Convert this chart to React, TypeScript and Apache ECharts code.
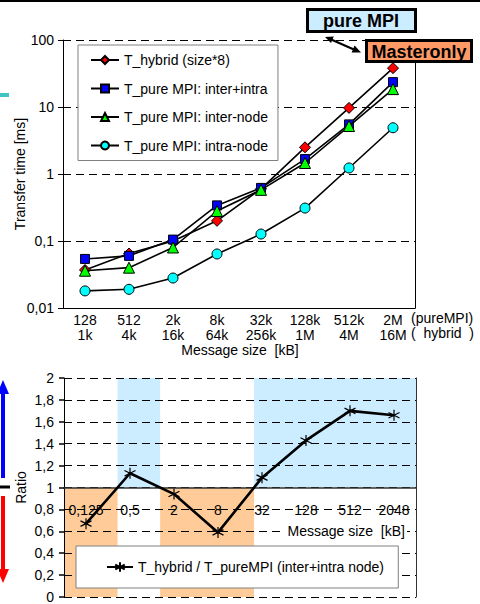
import React, { useEffect, useRef } from "react";
import * as echarts from "echarts";

const FONT = "'Liberation Sans', Arial, Helvetica, sans-serif";

// ---- Top chart data ----
const sizesPureMPI = ["128", "512", "2k", "8k", "32k", "128k", "512k", "2M"];
const sizesHybrid = ["1k", "4k", "16k", "64k", "256k", "1M", "4M", "16M"];
const tHybrid = [0.037, 0.065, 0.1, 0.2, 0.6, 2.5, 9.7, 38];
const tPureInterIntra = [0.054, 0.06, 0.105, 0.34, 0.62, 1.67, 5.5, 23.5];
const tPureInter = [0.036, 0.04, 0.08, 0.28, 0.58, 1.46, 5.2, 18.5];
const tPureIntra = [0.018, 0.019, 0.028, 0.064, 0.127, 0.31, 1.23, 4.9];
const topNames = [
  "T_hybrid (size*8)",
  "T_pure MPI: inter+intra",
  "T_pure MPI: inter-node",
  "T_pure MPI: intra-node",
];

// ---- Bottom chart data ----
const ratioSizes = ["0,125", "0,5", "2", "8", "32", "128", "512", "2048"];
const ratioValues = [0.67, 1.13, 0.94, 0.59, 1.09, 1.43, 1.7, 1.66];
const ratioName = "T_hybrid / T_pureMPI (inter+intra node)";

const STAR = "path://M5,0 L5,10 M0.7,2.5 L9.3,7.5 M0.7,7.5 L9.3,2.5";

function buildBands() {
  const bands: { from: number; to: number; above: boolean }[] = [];
  let start = 0;
  let above = ratioValues[0] > 1;
  for (let i = 0; i < ratioValues.length - 1; i++) {
    const a = ratioValues[i];
    const b = ratioValues[i + 1];
    if (a > 1 !== b > 1) {
      const c = i + 0.5 + (1 - a) / (b - a);
      bands.push({ from: start, to: c, above });
      start = c;
      above = !above;
    }
  }
  bands.push({ from: start, to: ratioValues.length, above });
  return bands.map((bd) =>
    bd.above
      ? [
          { xAxis: bd.from, yAxis: 1, itemStyle: { color: "#CCECFF", opacity: 1 } },
          { xAxis: bd.to, yAxis: 2 },
        ]
      : [
          { xAxis: bd.from, yAxis: 0, itemStyle: { color: "#FFCC99", opacity: 1 } },
          { xAxis: bd.to, yAxis: 1 },
        ]
  );
}

function fmtNum(v: number) {
  const s = String(+Number(v).toPrecision(6));
  return s.replace(".", ",");
}

export default function App() {
  const ref = useRef<HTMLDivElement>(null);
  useEffect(() => {
    if (!ref.current) return;
    const chart = echarts.init(ref.current, null, { renderer: "svg" });
    const dash = [8, 5];
    const topSeriesStyles = [
      { symbol: "diamond", size: 11, color: "#FF0000" },
      { symbol: "rect", size: 9, color: "#0000FF" },
      { symbol: "triangle", size: 11, color: "#00FF00" },
      { symbol: "circle", size: 10, color: "#00FFFF" },
    ];
    const topData = [tHybrid, tPureInterIntra, tPureInter, tPureIntra];

    const option: any = {
      animation: false,
      textStyle: { fontFamily: FONT, color: "#000" },
      grid: [
        { left: 63, top: 40, width: 352, height: 268, outerBoundsMode: "none", containLabel: false },
        { left: 64, top: 378, width: 352, height: 219, outerBoundsMode: "none", containLabel: false },
      ],
      xAxis: [
        {
          type: "category",
          gridIndex: 0,
          data: sizesPureMPI.map((p, i) => `${p}\n${sizesHybrid[i]}`),
          axisLine: { onZero: false, lineStyle: { color: "#000", width: 1 } },
          axisTick: { length: 5, lineStyle: { color: "#000" } },
          axisLabel: { color: "#000", fontSize: 14, lineHeight: 15, margin: 4, interval: 0, fontFamily: FONT },
          splitLine: { show: false },
        },
        {
          type: "category",
          gridIndex: 1,
          data: ratioSizes,
          offset: -109.5,
          z: 3,
          axisLine: { onZero: false, lineStyle: { color: "#333", width: 1.5 } },
          axisTick: { length: 5, lineStyle: { color: "#000", width: 1.5 } },
          axisLabel: { color: "#000", fontSize: 14, margin: 15, interval: 0, hideOverlap: false, fontFamily: FONT },
          splitLine: { show: false },
        },
        { type: "value", gridIndex: 1, min: 0, max: 8, show: false },
      ],
      yAxis: [
        {
          type: "log",
          gridIndex: 0,
          logBase: 10,
          min: 0.01,
          max: 100,
          axisLine: { show: true, onZero: false, lineStyle: { color: "#000" } },
          axisTick: { show: true, length: 5, lineStyle: { color: "#000" } },
          axisLabel: { color: "#000", fontSize: 14, margin: 9, fontFamily: FONT, formatter: fmtNum },
          splitLine: { show: true, lineStyle: { color: "#000", type: dash, width: 1 } },
          name: "Transfer time [ms]",
          nameLocation: "middle",
          nameGap: 36,
          nameMoveOverlap: false,
          nameTextStyle: { color: "#000", fontSize: 14, fontFamily: FONT },
        },
        {
          type: "value",
          gridIndex: 0,
          position: "right",
          min: 0,
          max: 1,
          axisLine: { show: true, onZero: false, lineStyle: { color: "#000" } },
          axisTick: { show: false },
          axisLabel: { show: false },
          splitLine: { show: false },
        },
        {
          type: "value",
          gridIndex: 1,
          min: 0,
          max: 2,
          interval: 0.2,
          z: 3,
          axisLine: { show: true, onZero: false, lineStyle: { color: "#000" } },
          axisTick: { show: true, length: 5, lineStyle: { color: "#000", width: 1.5 } },
          axisLabel: {
            color: "#000",
            fontSize: 14,
            margin: 10,
            fontFamily: FONT,
            formatter: (v: number) => String(Math.round(v * 10) / 10).replace(".", ","),
          },
          splitLine: { show: true, lineStyle: { color: "#000", type: dash, width: 1.2 } },
          name: "Ratio",
          nameLocation: "middle",
          nameGap: 36,
          nameMoveOverlap: false,
          nameTextStyle: { color: "#000", fontSize: 14, fontFamily: FONT },
        },
        {
          type: "value",
          gridIndex: 1,
          position: "right",
          min: 0,
          max: 1,
          z: 3,
          axisLine: { show: true, onZero: false, lineStyle: { color: "#333" } },
          axisTick: { show: false },
          axisLabel: { show: false },
          splitLine: { show: false },
        },
      ],
      legend: [
        {
          data: topNames,
          left: 78,
          top: 45,
          orient: "vertical",
          itemWidth: 28,
          itemHeight: 10,
          itemGap: 12.5,
          padding: [7, 10, 7, 12],
          backgroundColor: "#fff",
          borderColor: "#808080",
          borderWidth: 1,
          selectedMode: false,
          textStyle: { fontSize: 14, color: "#000", lineHeight: 16, fontFamily: FONT },
        },
        {
          data: [ratioName],
          left: 76,
          top: 546,
          itemWidth: 26,
          itemHeight: 12,
          padding: [13, 14, 13, 30],
          backgroundColor: "#fff",
          borderColor: "#808080",
          borderWidth: 1,
          selectedMode: false,
          textStyle: { fontSize: 14, color: "#000", lineHeight: 16, fontFamily: FONT },
        },
      ],
      series: [
        ...topData.map((d, i) => ({
          name: topNames[i],
          type: "line",
          xAxisIndex: 0,
          yAxisIndex: 0,
          data: d,
          symbol: topSeriesStyles[i].symbol,
          symbolSize: topSeriesStyles[i].size,
          itemStyle: { color: topSeriesStyles[i].color, borderColor: "#000", borderWidth: 1 },
          lineStyle: { color: "#000", width: 1.6 },
          z: 2 + i * 0.1,
        })),
        {
          name: "bands",
          type: "line",
          xAxisIndex: 2,
          yAxisIndex: 2,
          data: [],
          silent: true,
          markArea: { silent: true, label: { show: false }, data: buildBands() },
        },
        {
          name: ratioName,
          type: "line",
          xAxisIndex: 1,
          yAxisIndex: 2,
          data: ratioValues,
          symbol: STAR,
          symbolSize: 11,
          itemStyle: { color: "#000", borderColor: "#000", borderWidth: 1.2 },
          lineStyle: { color: "#000", width: 2.6 },
          z: 4,
        },
      ],
      graphic: [
        { type: "rect", shape: { x: 0, y: 0, width: 480, height: 2 }, style: { fill: "#000" }, z: 10 },
        { type: "rect", shape: { x: 0, y: 93, width: 9, height: 4 }, style: { fill: "#40C4C4" }, z: 10 },
        {
          type: "rect",
          shape: { x: 307.5, y: 9.5, width: 108, height: 22 },
          style: { fill: "#CCECFF", stroke: "#000", lineWidth: 3 },
          z: 10,
        },
        {
          type: "text",
          x: 361,
          y: 21,
          style: { text: "pure MPI", fontSize: 18, fontWeight: "bold", fontFamily: FONT, fill: "#000", align: "center", verticalAlign: "middle" },
          z: 11,
        },
        {
          type: "rect",
          shape: { x: 366.5, y: 40.5, width: 105, height: 21 },
          style: { fill: "#FF9966", stroke: "#000", lineWidth: 3 },
          z: 10,
        },
        {
          type: "text",
          x: 419,
          y: 52,
          style: { text: "Masteronly", fontSize: 18, fontWeight: "bold", fontFamily: FONT, fill: "#000", align: "center", verticalAlign: "middle" },
          z: 11,
        },
        { type: "line", shape: { x1: 330, y1: 39, x2: 355, y2: 50 }, style: { stroke: "#000", lineWidth: 2 }, z: 10 },
        { type: "polygon", shape: { points: [[325, 37], [333.8, 36.6], [331.0, 43.0]] }, style: { fill: "#000" }, z: 10 },
        { type: "polygon", shape: { points: [[361, 52.5], [351.6, 52.6], [354.6, 45.6]] }, style: { fill: "#000" }, z: 10 },
        // left side arrows
        { type: "rect", shape: { x: 1, y: 390, width: 4, height: 88 }, style: { fill: "#0000FF" }, z: 10 },
        { type: "polygon", shape: { points: [[3, 380], [-3, 394], [9, 394]] }, style: { fill: "#0000FF" }, z: 10 },
        { type: "rect", shape: { x: 0, y: 485.5, width: 10, height: 3 }, style: { fill: "#000" }, z: 10 },
        { type: "rect", shape: { x: 1, y: 496, width: 4, height: 74 }, style: { fill: "#FF0000" }, z: 10 },
        { type: "polygon", shape: { points: [[3, 583], [-3, 569], [9, 569]] }, style: { fill: "#FF0000" }, z: 10 },
        // texts
        {
          type: "text",
          x: 240,
          y: 350,
          style: { text: "Message size  [kB]", fontSize: 14, fontFamily: FONT, fill: "#000", align: "center", verticalAlign: "middle" },
          z: 10,
        },
        {
          type: "text",
          x: 411,
          y: 318,
          style: { text: "(pureMPI)", fontSize: 14, fontFamily: FONT, fill: "#000", align: "left", verticalAlign: "middle" },
          z: 10,
        },
        {
          type: "text",
          x: 411,
          y: 333,
          style: { text: "(  hybrid  )", fontSize: 14, fontFamily: FONT, fill: "#000", align: "left", verticalAlign: "middle" },
          z: 10,
        },
        {
          type: "text",
          x: 407,
          y: 531,
          style: {
            text: "Message size  [kB]",
            fontSize: 14,
            fontFamily: FONT,
            fill: "#000",
            align: "right",
            verticalAlign: "middle",
            backgroundColor: "#fff",
            padding: [0, 2, 0, 4],
          },
          z: 10,
        },
      ],
    };
    chart.setOption(option);
    return () => chart.dispose();
  }, []);
  return (
    <div
      ref={ref}
      style={{ position: "fixed", left: 0, top: 0, width: 480, height: 604, background: "#fff" }}
    />
  );
}
